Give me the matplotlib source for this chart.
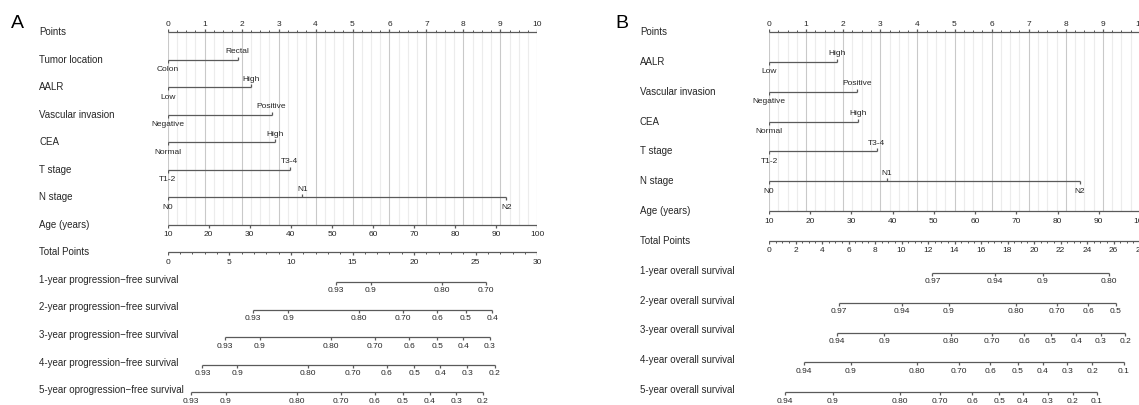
import numpy as np
import matplotlib
matplotlib.use('Agg')
import matplotlib.pyplot as plt
import matplotlib.transforms as mtransforms

plt.rcParams['font.family'] = ['Liberation Sans', 'DejaVu Sans']

# ---------------- data: panel A (progression-free survival) ----------------
points_ticks = list(range(0, 11))

a_vars = ['Tumor location', 'AALR', 'Vascular invasion', 'CEA', 'T stage', 'N stage']
a_levels = [['Colon', 'Rectal'], ['Low', 'High'], ['Negative', 'Positive'],
            ['Normal', 'High'], ['T1-2', 'T3-4'], ['N0', 'N1', 'N2']]
a_points = [[0, 1.89], [0, 2.25], [0, 2.81], [0, 2.90], [0, 3.30], [0, 3.64, 9.16]]

age_ticks = [10, 20, 30, 40, 50, 60, 70, 80, 90, 100]

a_total_max = 30
a_total_ticks = [0, 5, 10, 15, 20, 25, 30]

a_surv_names = ['1-year progression\u2212free survival', '2-year progression\u2212free survival',
                '3-year progression\u2212free survival', '4-year progression\u2212free survival',
                '5-year oprogression\u2212free survival']
a_surv_labels = [['0.93', '0.9', '0.80', '0.70'],
                 ['0.93', '0.9', '0.80', '0.70', '0.6', '0.5', '0.4'],
                 ['0.93', '0.9', '0.80', '0.70', '0.6', '0.5', '0.4', '0.3'],
                 ['0.93', '0.9', '0.80', '0.70', '0.6', '0.5', '0.4', '0.3', '0.2'],
                 ['0.93', '0.9', '0.80', '0.70', '0.6', '0.5', '0.4', '0.3', '0.2']]
a_surv_total = [[13.65, 16.5, 22.27, 25.86],
                [6.94, 9.78, 15.54, 19.1, 21.86, 24.19, 26.35],
                [4.65, 7.48, 13.24, 16.81, 19.59, 21.89, 23.97, 26.14],
                [2.81, 5.64, 11.4, 15.0, 17.76, 20.0, 22.14, 24.32, 26.54],
                [1.86, 4.73, 10.5, 14.05, 16.81, 19.1, 21.27, 23.43, 25.59]]

# ---------------- data: panel B (overall survival) ----------------
b_vars = ['AALR', 'Vascular invasion', 'CEA', 'T stage', 'N stage']
b_levels = [['Low', 'High'], ['Negative', 'Positive'], ['Normal', 'High'],
            ['T1-2', 'T3-4'], ['N0', 'N1', 'N2']]
b_points = [[0, 1.84], [0, 2.38], [0, 2.41], [0, 2.90], [0, 3.17, 8.38]]

b_total_max = 28
b_total_ticks = list(range(0, 29, 2))

b_surv_names = ['1-year overall survival', '2-year overall survival', '3-year overall survival',
                '4-year overall survival', '5-year overall survival']
b_surv_labels = [['0.97', '0.94', '0.9', '0.80'],
                 ['0.97', '0.94', '0.9', '0.80', '0.70', '0.6', '0.5'],
                 ['0.94', '0.9', '0.80', '0.70', '0.6', '0.5', '0.4', '0.3', '0.2'],
                 ['0.94', '0.9', '0.80', '0.70', '0.6', '0.5', '0.4', '0.3', '0.2', '0.1'],
                 ['0.94', '0.9', '0.80', '0.70', '0.6', '0.5', '0.4', '0.3', '0.2', '0.1']]
b_surv_total = [[12.33, 17.06, 20.65, 25.68],
                [5.28, 10.01, 13.58, 18.62, 21.71, 24.1, 26.17],
                [5.11, 8.7, 13.71, 16.85, 19.25, 21.28, 23.17, 25.03, 26.87],
                [2.64, 6.16, 11.19, 14.34, 16.68, 18.77, 20.66, 22.52, 24.4, 26.79],
                [1.21, 4.81, 9.89, 12.91, 15.34, 17.38, 19.15, 21.03, 22.92, 24.73]]

# ---------------- style ----------------
W, H = 1139, 406
LINE = '#5a5a5a'
TXT = '#262626'
LW = 0.9
TICK = 3.0
OFF = 9.0
FS_ROW = 7.0
FS_TICK = 6.0

fig = plt.figure(figsize=(W / 100, H / 100), dpi=100)


def scale_line(ax, y, xs, labels, side, minor=None, minor_len=1.6, off=OFF):
    d = -1 if side == 'up' else 1
    ax.hlines(y, min(xs), max(xs), color=LINE, lw=LW)
    ax.vlines(xs, y, y + d * TICK, color=LINE, lw=LW)
    if minor is not None:
        ax.vlines(minor, y, y + d * minor_len, color=LINE, lw=LW * 0.8)
    for x, lab in zip(xs, labels):
        ax.text(x, y + d * off, lab, ha='center', va='center', fontsize=FS_TICK, color=TXT)


def panel(px0, px1, label_px, letter, letter_px, y0, step, var_names, levels, pts,
          total_max, total_ticks, total_minor, surv_names, surv_labels, surv_total):
    ax = fig.add_axes([px0 / W, 0, (px1 - px0) / W, 1])
    ax.set_xlim(0, 10)
    ax.set_ylim(H, 0)
    ax.axis('off')
    trans = mtransforms.blended_transform_factory(fig.transFigure, ax.transData)

    rows = ['Points'] + var_names + ['Age (years)', 'Total Points'] + surv_names
    ys = [y0 + i * step for i in range(len(rows))]
    for name, y in zip(rows, ys):
        ax.text(label_px / W, y - 1, name, transform=trans, ha='left', va='center',
                fontsize=FS_ROW, color=TXT, clip_on=False)

    age_row = 1 + len(var_names)
    # reference grid
    minor_grid = [x for x in np.arange(0, 10.01, 0.25) if abs(x - round(x)) > 1e-6]
    ax.vlines(minor_grid, ys[0], ys[age_row], color='#ececec', lw=0.8, zorder=0)
    ax.vlines(points_ticks, ys[0], ys[age_row], color='#c9c9c9', lw=0.8, zorder=0)

    # points scale
    scale_line(ax, ys[0], points_ticks, [str(t) for t in points_ticks], 'up', minor=minor_grid)

    # categorical predictors
    for i, (lev, p) in enumerate(zip(levels, pts)):
        y = ys[1 + i]
        ax.hlines(y, min(p), max(p), color=LINE, lw=LW)
        for j, (x, lab) in enumerate(zip(p, lev)):
            d = 1 if j % 2 == 0 else -1
            ax.vlines(x, y, y + d * TICK, color=LINE, lw=LW)
            ax.text(x, y + d * OFF, lab, ha='center', va='center', fontsize=FS_TICK, color=TXT)

    # age
    age_x = [(a - 10) / 9 for a in age_ticks]
    scale_line(ax, ys[age_row], age_x, [str(a) for a in age_ticks], 'down')

    # total points
    k = 10 / total_max
    tx = [t * k for t in total_ticks]
    mx = [t * k for t in np.arange(0, total_max + 0.01, total_minor)]
    scale_line(ax, ys[age_row + 1], tx, [str(t) for t in total_ticks], 'down', minor=mx)

    # survival rows
    for i, (labs, tot) in enumerate(zip(surv_labels, surv_total)):
        scale_line(ax, ys[age_row + 2 + i] + 2, [t * k for t in tot], labs, 'down', off=8)

    fig.text(letter_px / W, 1 - 24 / H, letter, fontsize=14, color='black', ha='left', va='center')
    return ax


panel(167.7, 537.3, 39, 'A', 11, 33, 27.55, a_vars, a_levels, a_points,
      a_total_max, a_total_ticks, 1, a_surv_names, a_surv_labels, a_surv_total)
panel(769, 1140, 640, 'B', 615, 33, 29.85, b_vars, b_levels, b_points,
      b_total_max, b_total_ticks, 0.5, b_surv_names, b_surv_labels, b_surv_total)

fig.savefig('out.png', dpi=100)
